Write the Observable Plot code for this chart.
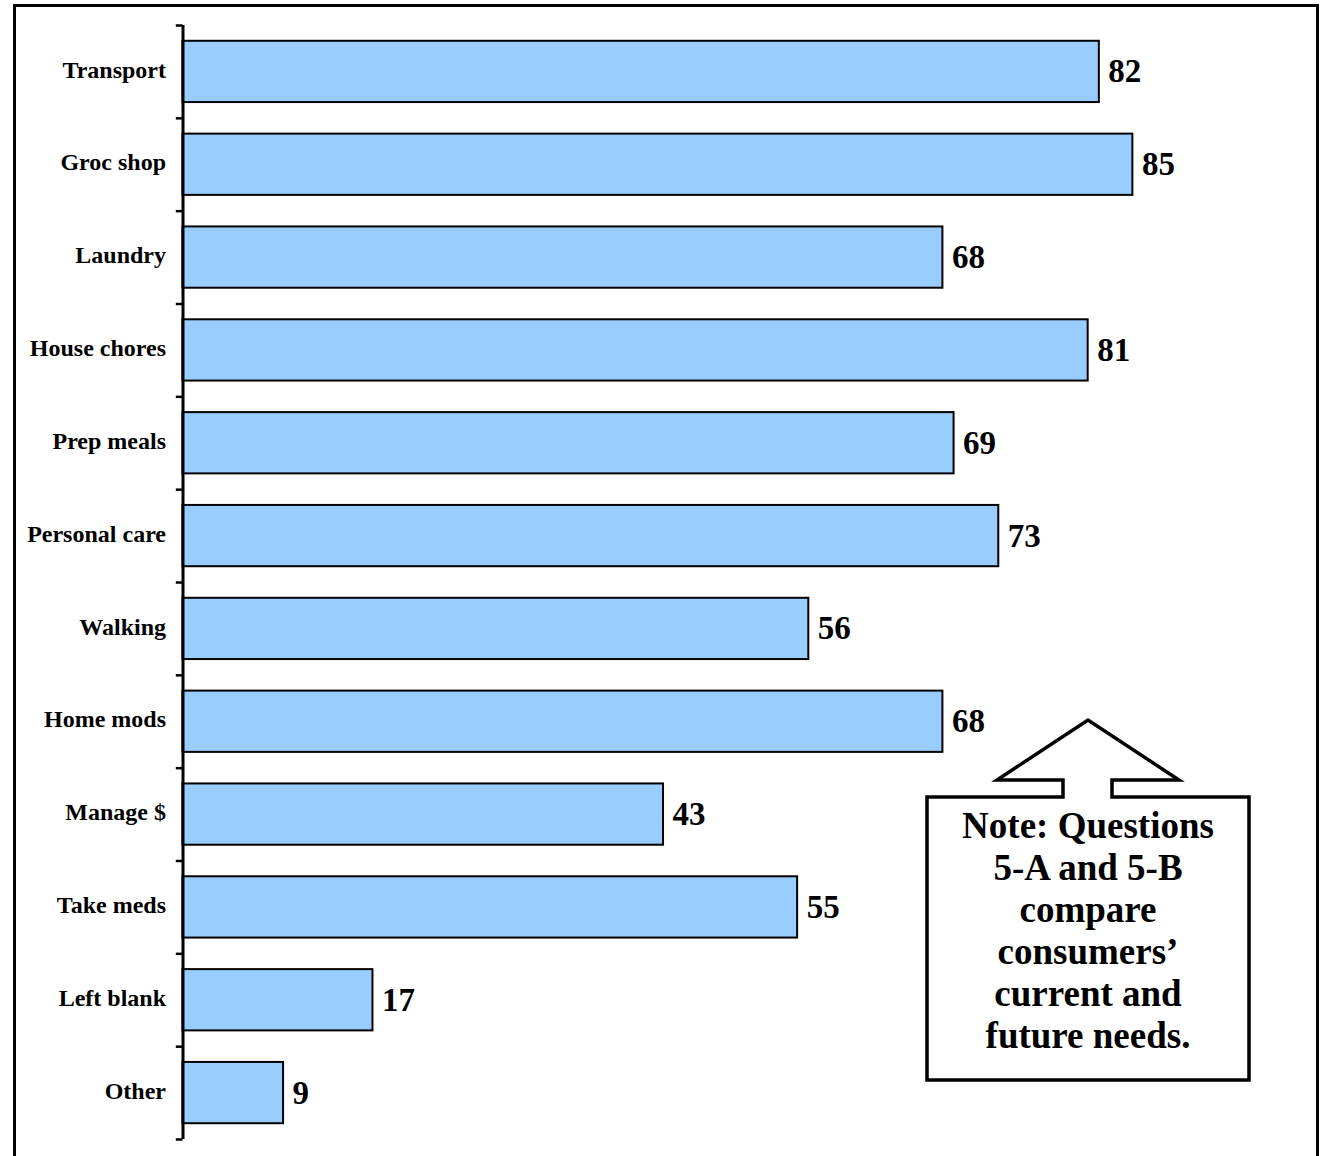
<!DOCTYPE html>
<html>
<head>
<meta charset="utf-8">
<script src="https://cdn.jsdelivr.net/npm/d3@7"></script>
<script src="https://cdn.jsdelivr.net/npm/@observablehq/plot@0.6"></script>
<style>
  html, body { margin: 0; padding: 0; background: #fff; overflow: hidden; }
  #wrap { position: relative; width: 1324px; height: 1156px; }
  #frame { position: absolute; left: 13px; top: 4px; width: 1306px; height: 1200px; border: 3px solid #000; box-sizing: border-box; pointer-events: none; }
  #chart { position: absolute; left: 0; top: 0; }
</style>
</head>
<body>
<div id="wrap"><div id="chart"></div><div id="frame"></div></div>
<script>
const categories = ["Transport", "Groc shop", "Laundry", "House chores", "Prep meals", "Personal care", "Walking", "Home mods", "Manage $", "Take meds", "Left blank", "Other"];
const values = [82, 85, 68, 81, 69, 73, 56, 68, 43, 55, 17, 9];
const noteLines = ["Note: Questions", "5-A and 5-B", "compare", "consumers\u2019", "current and", "future needs."];

const data = categories.map((c, i) => ({category: c, value: values[i]}));

const W = 1324, H = 1156;
const M = {top: 25, bottom: 17, left: 182.5, right: 24};
const step = (H - M.top - M.bottom) / categories.length;
const FONT = "'Liberation Serif', 'Times New Roman', serif";

const plot = Plot.plot({
  width: W,
  height: H,
  marginTop: M.top,
  marginBottom: M.bottom,
  marginLeft: M.left,
  marginRight: M.right,
  style: {fontFamily: FONT, background: "transparent", overflow: "visible"},
  x: {domain: [0, 100], axis: null},
  y: {domain: categories, paddingInner: 0.34, paddingOuter: 0.17, round: false, label: null},
  marks: [
    Plot.barX(data, {y: "category", x: "value", fill: "#99CCFF", stroke: "#000", strokeWidth: 2}),
    Plot.text(data, {y: "category", x: "value", text: d => String(d.value), textAnchor: "start", dx: 9, fontSize: 33, fontWeight: "bold", fill: "#000"}),
    Plot.ruleX([0], {stroke: "#000", strokeWidth: 3}),
    Plot.ruleY(categories, {y: d => d, x1: -0.6, x2: 0, dy: -step / 2, stroke: "#000", strokeWidth: 2.5}),
    Plot.ruleY([categories[categories.length - 1]], {y: d => d, x1: -0.6, x2: 0, dy: step / 2, stroke: "#000", strokeWidth: 2.5}),
    Plot.axisY({tickSize: 0, tickPadding: 17, dy: -2, fontSize: 24, fontWeight: "bold", fill: "#000", label: null})
  ]
});

document.getElementById("chart").appendChild(plot);

// Callout annotation (layout in pixels)
const svg = d3.select(plot);
const box = {x0: 927, x1: 1249, y0: 797, y1: 1080};
const arrow = {tipX: 1088, tipY: 720, baseY: 780, headL: 997, headR: 1179, shaftL: 1063, shaftR: 1112};
const pts = [
  [arrow.shaftL, box.y0], [box.x0, box.y0], [box.x0, box.y1], [box.x1, box.y1], [box.x1, box.y0],
  [arrow.shaftR, box.y0], [arrow.shaftR, arrow.baseY], [arrow.headR, arrow.baseY], [arrow.tipX, arrow.tipY],
  [arrow.headL, arrow.baseY], [arrow.shaftL, arrow.baseY]
];
svg.append("path")
  .attr("d", "M" + pts.map(p => p.join(",")).join("L") + "Z")
  .attr("fill", "#fff").attr("stroke", "#000").attr("stroke-width", 3.5).attr("stroke-linejoin", "miter");
const tg = svg.append("g").attr("font-family", FONT).attr("font-size", 37).attr("font-weight", "bold").attr("text-anchor", "middle").attr("fill", "#000");
noteLines.forEach((t, i) => {
  tg.append("text").attr("x", arrow.tipX).attr("y", 825 + i * 42).attr("dy", "0.35em").text(t);
});
</script>
</body>
</html>
